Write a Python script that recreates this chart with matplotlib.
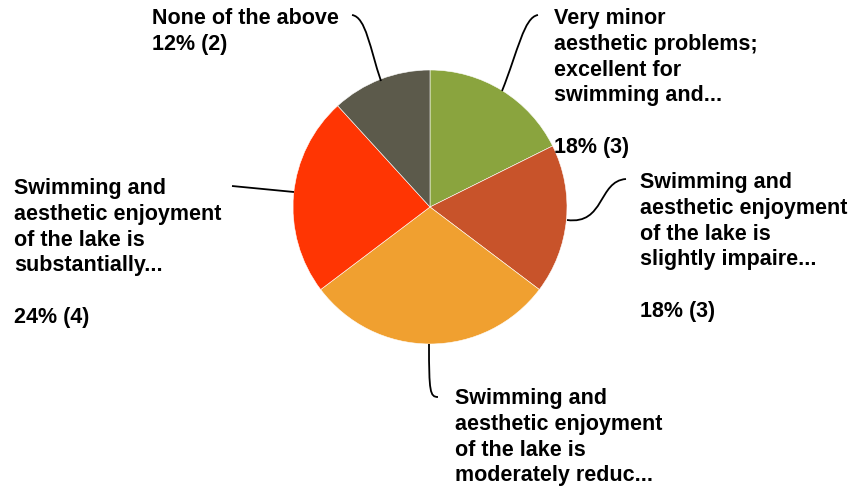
import matplotlib
matplotlib.use("Agg")
import matplotlib.pyplot as plt
from matplotlib.path import Path
from matplotlib.patches import PathPatch

# Data
answers = [
    "Very minor\naesthetic problems;\nexcellent for\nswimming and...",
    "Swimming and\naesthetic enjoyment\nof the lake is\nslightly impaire...",
    "Swimming and\naesthetic enjoyment\nof the lake is\nmoderately reduc...",
    "Swimming and\naesthetic enjoyment\nof the lake is\nsubstantially...",
    "None of the above",
]
counts = [3, 3, 5, 4, 2]
colors = ["#8aa43e", "#c8532a", "#f0a030", "#ff3503", "#5c5a4b"]

plt.rcParams["font.family"] = ["Liberation Sans", "DejaVu Sans"]

W, H = 854, 489
fig = plt.figure(figsize=(W / 100, H / 100), dpi=100)
ax = fig.add_axes([0, 0, 1, 1])

# pie in pixel units (y up)
cx, cy, r = 430, H - 208, 137
ax.pie(counts, colors=colors, startangle=90, counterclock=False,
       center=(cx, cy), radius=r, frame=True,
       wedgeprops=dict(edgecolor="white", linewidth=0.4))
ax.set_xlim(0, W)
ax.set_ylim(0, H)
ax.set_aspect("equal")
ax.axis("off")

total = sum(counts)
pct = [f"{round(c / total * 100)}% ({c})" for c in counts]

# label text, top-left position (pixels from top), leader curve points (pixels from top)
labels = [
    (answers[0] + "\n\n" + pct[0], 554, 8,
     [(502, 92), (518, 52), (524, 18), (538, 16)]),
    (answers[1] + "\n\n" + pct[1], 640, 172,
     [(567, 221), (605, 226), (598, 182), (626, 180)]),
    (answers[2], 455, 388,
     [(429, 345), (429, 393), (430, 398), (438, 398)]),
    (answers[3] + "\n\n" + pct[3], 14, 178,
     [(232, 187), (252, 189), (274, 191), (294, 193)]),
    (answers[4] + "\n" + pct[4], 152, 8,
     [(352, 16), (366, 18), (370, 50), (381, 82)]),
]

for text, x, y, pts in labels:
    ax.text(x, H - y, text, ha="left", va="top", fontsize=15.5,
            fontweight="bold", color="black", linespacing=1.3)
    verts = [(px, H - py) for px, py in pts]
    path = Path(verts, [Path.MOVETO, Path.CURVE4, Path.CURVE4, Path.CURVE4])
    ax.add_patch(PathPatch(path, facecolor="none", edgecolor="black", lw=1.3))

fig.savefig("out.png", dpi=100)
